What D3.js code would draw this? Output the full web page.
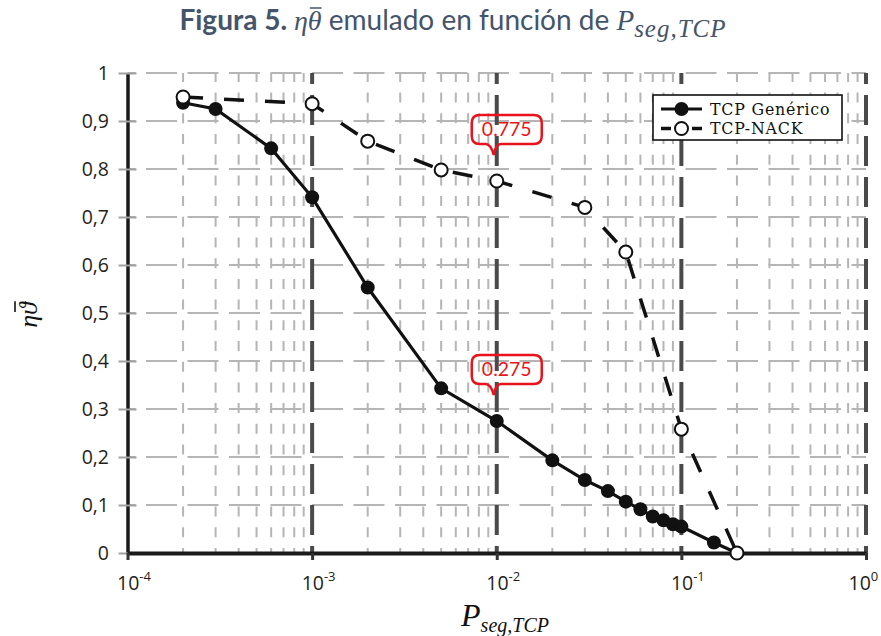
<!DOCTYPE html>
<html>
<head>
<meta charset="utf-8">
<script src="https://cdn.jsdelivr.net/npm/d3@7"></script>
<style>
  body { margin: 0; background: #fff; }
  svg { display: block; }
</style>
</head>
<body>
<svg id="chart" width="881" height="636"></svg>
<script>
// --- data ---
const decades = [1e-4, 1e-3, 1e-2, 1e-1, 1];
const decadeExponents = ["-4", "-3", "-2", "-1", "0"];
const yTicks = [0, 0.1, 0.2, 0.3, 0.4, 0.5, 0.6, 0.7, 0.8, 0.9, 1];
const yTickLabels = ["0", "0,1", "0,2", "0,3", "0,4", "0,5", "0,6", "0,7", "0,8", "0,9", "1"];

const genericP = [2e-4, 3e-4, 6e-4, 1e-3, 2e-3, 5e-3, 1e-2, 2e-2, 3e-2, 4e-2, 5e-2, 6e-2, 7e-2, 8e-2, 9e-2, 0.1, 0.15, 0.2];
const genericEta = [0.938, 0.925, 0.843, 0.741, 0.553, 0.343, 0.275, 0.193, 0.152, 0.129, 0.107, 0.091, 0.076, 0.068, 0.06, 0.055, 0.022, 0];

const nackP = [2e-4, 1e-3, 2e-3, 5e-3, 1e-2, 3e-2, 5e-2, 0.1, 0.2];
const nackEta = [0.95, 0.936, 0.858, 0.798, 0.775, 0.72, 0.627, 0.258, 0];

const seriesNames = ["TCP Genérico", "TCP-NACK"];
const calloutP = [1e-2, 1e-2];
const calloutEta = [0.775, 0.275];
const calloutLabels = ["0.775", "0.275"];

const serif = "'Liberation Serif', 'Times New Roman', serif";
const sans = "'Open Sans', 'Noto Sans', sans-serif";

const svg = d3.select("#chart");

const x = d3.scaleLog().domain([1e-4, 1]).range([127.5, 866]);
const y = d3.scaleLinear().domain([0, 1]).range([553, 73]);
const [y0, y1] = y.range();
const [x0, x1] = x.range();

// --- grid ---
const grid = svg.append("g");

const minors = [];
decades.slice(0, -1).forEach((d) => {
  for (let k = 2; k <= 9; k++) minors.push(k * d);
});

grid.selectAll("line.minor")
  .data(minors)
  .join("line")
  .attr("class", "minor")
  .attr("x1", (d) => x(d)).attr("x2", (d) => x(d))
  .attr("y1", y0).attr("y2", y1)
  .attr("stroke", "#b5b5b5")
  .attr("stroke-width", 2)
  .attr("stroke-dasharray", "10,10.7")
  .attr("stroke-dashoffset", 5);

grid.selectAll("line.hgrid")
  .data(yTicks.slice(1))
  .join("line")
  .attr("class", "hgrid")
  .attr("x1", x0).attr("x2", x1)
  .attr("y1", (d) => y(d)).attr("y2", (d) => y(d))
  .attr("stroke", "#b5b5b5")
  .attr("stroke-width", 2)
  .attr("stroke-dasharray", "31,10.5")
  .attr("stroke-dashoffset", 23);

grid.selectAll("line.major")
  .data(decades.slice(1))
  .join("line")
  .attr("class", "major")
  .attr("x1", (d) => x(d)).attr("x2", (d) => x(d))
  .attr("y1", y0).attr("y2", y1)
  .attr("stroke", "#4a4a4a")
  .attr("stroke-width", 4)
  .attr("stroke-dasharray", "30,11")
  .attr("stroke-dashoffset", 23);

// --- axes ---
const yAxis = svg.append("g")
  .attr("transform", `translate(${x0},0)`)
  .call(d3.axisLeft(y).tickValues(yTicks).tickFormat((d, i) => yTickLabels[i]).tickSize(9).tickSizeOuter(0).tickPadding(9.5));
yAxis.select(".domain").attr("stroke", "#1a1a1a").attr("stroke-width", 3.5);
yAxis.selectAll(".tick line").attr("x1", 9).attr("stroke", "#a0a0a0").attr("stroke-width", 2);
yAxis.selectAll(".tick text")
  .attr("fill", "#231f20")
  .style("font-family", sans)
  .style("font-size", "19.5px");

const xAxis = svg.append("g")
  .attr("transform", `translate(0,${y0})`)
  .call(d3.axisBottom(x).tickValues(decades).tickFormat(() => "").tickSize(7).tickSizeOuter(0));
xAxis.select(".domain").attr("stroke", "#1a1a1a").attr("stroke-width", 4);
xAxis.selectAll(".tick line").attr("stroke", "#333").attr("stroke-width", 3);
xAxis.selectAll(".tick text").remove();
xAxis.selectAll(".tick").each(function (d, i) {
  const t = d3.select(this).append("text")
    .attr("x", i === decades.length - 1 ? -18 : -11)
    .attr("y", 37)
    .attr("text-anchor", "start")
    .attr("fill", "#231f20")
    .style("font-family", sans)
    .style("font-size", "19.5px");
  t.append("tspan").text("10");
  t.append("tspan").attr("dy", -9).style("font-size", "13px").text(decadeExponents[i]);
});

// --- series ---
const line = d3.line().x((d) => x(d[0])).y((d) => y(d[1]));
const generic = d3.zip(genericP, genericEta);
const nack = d3.zip(nackP, nackEta);

svg.append("path")
  .datum(generic)
  .attr("d", line)
  .attr("fill", "none")
  .attr("stroke", "#111")
  .attr("stroke-width", 3.2);
svg.append("g").selectAll("circle")
  .data(generic)
  .join("circle")
  .attr("cx", (d) => x(d[0])).attr("cy", (d) => y(d[1]))
  .attr("r", 7)
  .attr("fill", "#111");

svg.append("path")
  .datum(nack)
  .attr("d", line)
  .attr("fill", "none")
  .attr("stroke", "#111")
  .attr("stroke-width", 3.5)
  .attr("stroke-dasharray", "20,21");
svg.append("g").selectAll("circle")
  .data(nack)
  .join("circle")
  .attr("cx", (d) => x(d[0])).attr("cy", (d) => y(d[1]))
  .attr("r", 6.5)
  .attr("fill", "#fff")
  .attr("stroke", "#111")
  .attr("stroke-width", 2);

// --- callouts ---
function bubble(tx, ty) {
  const w = 70, h = 29, t = 11, r = 8;
  const left = tx - 22, right = left + w;
  const bottom = ty - t, top = bottom - h;
  return `M${left + r},${top} H${right - r} Q${right},${top} ${right},${top + r} V${bottom - r} ` +
    `Q${right},${bottom} ${right - r},${bottom} H${tx + 7} Q${tx + 2},${bottom} ${tx},${ty} ` +
    `Q${tx - 3},${bottom} ${tx - 8},${bottom} H${left + r} Q${left},${bottom} ${left},${bottom - r} ` +
    `V${top + r} Q${left},${top} ${left + r},${top} Z`;
}
calloutLabels.forEach((label, i) => {
  const tx = x(calloutP[i]) - 3;
  const ty = y(calloutEta[i]) - 26;
  svg.append("path")
    .attr("d", bubble(tx, ty))
    .attr("fill", "none")
    .attr("stroke", "#e8141c")
    .attr("stroke-width", 2.5);
  svg.append("text")
    .attr("x", tx + 13)
    .attr("y", ty - 11 - 14.5)
    .attr("dy", "0.35em")
    .attr("text-anchor", "middle")
    .attr("fill", "#e8141c")
    .style("font-family", "Lato, sans-serif")
    .style("font-size", "19.5px")
    .text(label);
});

// --- legend ---
const legend = svg.append("g").attr("transform", "translate(653,95)");
legend.append("rect")
  .attr("width", 189).attr("height", 45)
  .attr("fill", "#fff")
  .attr("stroke", "#111")
  .attr("stroke-width", 1.6);
seriesNames.forEach((name, i) => {
  const row = legend.append("g").attr("transform", `translate(0,${14 + i * 19.5})`);
  if (i === 0) {
    row.append("line").attr("x1", 8).attr("x2", 49).attr("stroke", "#111").attr("stroke-width", 3.2);
    row.append("circle").attr("cx", 28.5).attr("r", 7).attr("fill", "#111");
  } else {
    row.append("line").attr("x1", 8).attr("x2", 18).attr("stroke", "#111").attr("stroke-width", 3.5);
    row.append("line").attr("x1", 39).attr("x2", 49).attr("stroke", "#111").attr("stroke-width", 3.5);
    row.append("circle").attr("cx", 28.5).attr("r", 6.5).attr("fill", "#fff").attr("stroke", "#111").attr("stroke-width", 2);
  }
  row.append("text")
    .attr("x", 57)
    .attr("dy", "0.36em")
    .attr("fill", "#111")
    .style("font-family", "'DejaVu Serif', serif")
    .style("font-size", "15.8px")
    .style("letter-spacing", "0.8px")
    .text(name);
});

// --- axis titles ---
const xt = svg.append("text")
  .attr("x", 505).attr("y", 626)
  .attr("text-anchor", "middle")
  .attr("fill", "#111")
  .style("font-family", serif)
  .style("font-style", "italic")
  .style("font-size", "32px");
xt.append("tspan").text("P");
xt.append("tspan").attr("dy", 6).style("font-size", "20px").text("seg,TCP");

// y title: eta, vartheta with a drawn bar over the vartheta
const yt = svg.append("g").attr("transform", "translate(37,315) rotate(-90)");
const ytText = yt.append("text")
  .attr("text-anchor", "middle")
  .attr("fill", "#111")
  .style("font-family", serif)
  .style("font-style", "italic")
  .style("font-size", "26px")
  .text("ηϑ");
const thetaBox = ytText.node().getExtentOfChar(1);
yt.append("line")
  .attr("x1", thetaBox.x + 3).attr("x2", thetaBox.x + thetaBox.width + 1)
  .attr("y1", -22).attr("y2", -22)
  .attr("stroke", "#111").attr("stroke-width", 1.6);

// --- figure title ---
const title = svg.append("text")
  .attr("x", 453).attr("y", 30)
  .attr("text-anchor", "middle")
  .attr("fill", "#44546A")
  .style("font-family", "Lato, sans-serif")
  .style("font-size", "28px");
title.append("tspan").style("font-weight", "bold").text("Figura 5. ");
title.append("tspan").style("font-family", serif).style("font-style", "italic").style("font-size", "28px").text("ηθ");
title.append("tspan").text(" emulado en función de ");
title.append("tspan").style("font-family", serif).style("font-style", "italic").style("font-size", "29px").text("P");
title.append("tspan").attr("dy", 7).style("font-family", serif).style("font-style", "italic").style("font-size", "25px").style("letter-spacing", "1px").text("seg,TCP");
const titleTheta = title.node().getExtentOfChar("Figura 5. η".length);
svg.append("line")
  .attr("x1", titleTheta.x + 2).attr("x2", titleTheta.x + titleTheta.width)
  .attr("y1", 8).attr("y2", 8)
  .attr("stroke", "#44546A").attr("stroke-width", 1.5);
</script>
</body>
</html>
